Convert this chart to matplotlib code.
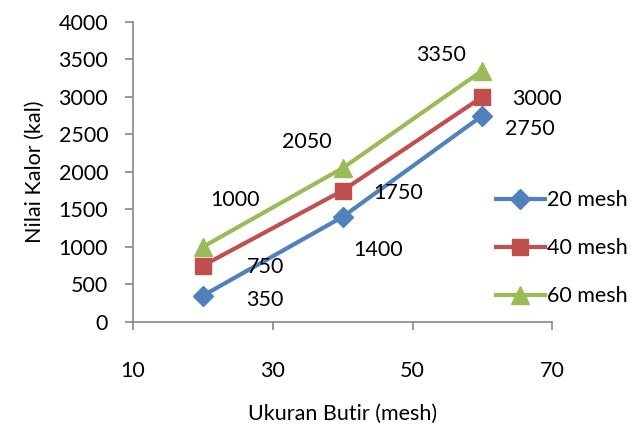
import matplotlib
matplotlib.use('Agg')
import matplotlib.pyplot as plt

plt.rcParams['font.family'] = ['Lato', 'DejaVu Sans']

ukuran = [20, 40, 60]
mesh20 = [350, 1400, 2750]
mesh40 = [750, 1750, 3000]
mesh60 = [1000, 2050, 3350]
labels = ['20 mesh', '40 mesh', '60 mesh']

series = [mesh20, mesh40, mesh60]
colors = ['#4F81BD', '#C0504D', '#9BBB59']
markers = ['D', 's', '^']
msizes = [10, 12, 13]
# label offsets in pixels (dx, dy) for each point
offsets = [
    [(62, -4), (35, -33), (48, -13)],
    [(63, -1), (55, -2), (55, -2)],
    [(32, 47), (-36, 26), (-41, 16)],
]
fs = 15.5

fig = plt.figure(figsize=(6.34, 4.28), dpi=100)
ax = fig.add_axes([0.21, 0.248, 0.661, 0.701])

handles = []
for s, c, m, ms, lab, offs in zip(series, colors, markers, msizes, labels, offsets):
    h, = ax.plot(ukuran, s, color=c, lw=3, marker=m, ms=ms, label=lab)
    handles.append(h)
    for x, y, (dx, dy) in zip(ukuran, s, offs):
        ax.annotate(str(y), (x, y), xytext=(dx, dy), textcoords='offset pixels',
                    ha='center', va='center', fontsize=fs)

ax.set_xlim(10, 70)
ax.set_ylim(0, 4000)
ax.set_xticks([10, 30, 50, 70])
ax.set_yticks(range(0, 4001, 500))

for side in ['top', 'right']:
    ax.spines[side].set_visible(False)
for side in ['left', 'bottom']:
    ax.spines[side].set_color('#868686')
    ax.spines[side].set_linewidth(1.2)
ax.tick_params(axis='both', colors='#868686', labelcolor='black', labelsize=fs,
               length=6, width=1.2)
ax.tick_params(axis='x', pad=22)
ax.tick_params(axis='y', pad=12)

ax.set_xlabel('Ukuran Butir (mesh)', fontsize=fs, labelpad=17)
ax.set_ylabel('Nilai Kalor (kal)', fontsize=fs, labelpad=10)

fig.legend(handles=handles, loc='center left', bbox_to_anchor=(0.768, 0.42),
           frameon=False, fontsize=fs, handlelength=2.3, handletextpad=0.1,
           labelspacing=1.3, borderaxespad=0)

fig.savefig('out.png', dpi=100)
